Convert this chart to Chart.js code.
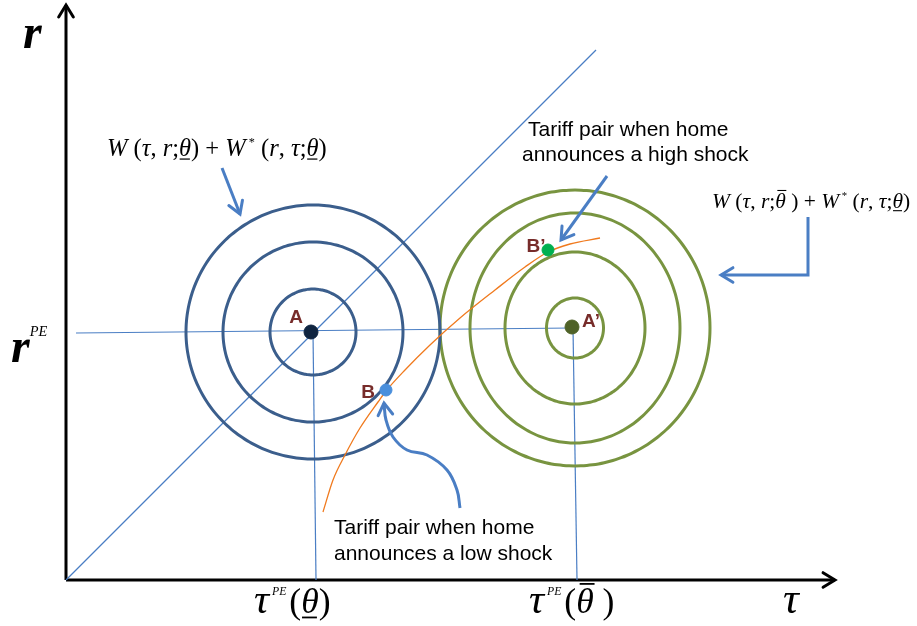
<!DOCTYPE html>
<html>
<head>
<meta charset="utf-8">
<script src="https://cdn.jsdelivr.net/npm/chart.js@4"></script>
<style>
  html, body { margin: 0; padding: 0; background: #fff; }
  #wrap { width: 917px; height: 626px; }
</style>
</head>
<body>
<div id="wrap"><canvas id="chart"></canvas></div>
<script>
// Diagram space: tau on the horizontal axis, r on the vertical, origin at the axes corner
const tauRange = [-66, 851];
const rRange = [-46, 580];

// Axes (with arrow heads)
const tauAxis = [[0, 0], [769, 0]];
const rAxis = [[0, 0], [0, 575]];

// Guide lines
const diagonal = [[0, 0], [530, 530]];
const rPELine = [[10, 247], [506, 252]];
const tauLowLine = [[247, 248], [250, 0]];
const tauHighLine = [[507, 252], [511, 0]];

// Iso-welfare contours: centre and radii
const lowCentre = [247, 248];
const lowRadii = [43, 90, 127];
const highCentre = [509, 252];
const highRadiiTau = [28.5, 70, 105, 135];
const highRadiiR = [30, 76, 115, 138];

// Orange locus through B and B'
const curveTau = [257, 267, 279, 294, 312, 320, 339, 364, 394, 429, 459, 482, 504, 534];
const curveR = [68, 100, 125, 152, 178, 189, 210, 235, 262, 290, 313, 328, 336, 342];

// Marked points
const pointNames = ['A', 'B', 'A\u2019', 'B\u2019'];
const pointTau = [245, 320, 506, 482];
const pointR = [248, 190, 253, 330];
const pointColors = ['#0f2440', '#4a8fdc', '#4f6228', '#00b050'];

// Call-out arrows
const arrowLow = [[156, 412], [174, 366]];
const arrowHigh = [[541, 404], [495, 340]];
const arrowBTau = [394, 391, 381, 361, 341, 327, 320, 318];
const arrowBR = [72, 90, 110, 125, 130, 143, 160, 177];
const arrowElbow = [[742, 363], [742, 305], [655, 305]];

const toPts = arr => arr.map(p => ({ x: p[0], y: p[1] }));

function ring(centre, rx, ry) {
    const pts = [];
    for (let k = 0; k <= 144; k++) {
        const a = k / 144 * 2 * Math.PI;
        pts.push({ x: centre[0] + rx * Math.cos(a), y: centre[1] + ry * Math.sin(a) });
    }
    return pts;
}

const BLUE_LINE = '#4a7ec4';
const datasets = [];

// points first so they stay on top
pointNames.forEach((name, i) => {
    datasets.push({
        data: [{ x: pointTau[i], y: pointR[i] }],
        pointRadius: i % 2 === 0 ? 7 : 6,
        backgroundColor: pointColors[i],
        borderColor: pointColors[i],
        showLine: false
    });
});

function line(pts, color, width, extra) {
    datasets.push(Object.assign({
        data: pts,
        showLine: true,
        borderColor: color,
        borderWidth: width,
        pointRadius: 0,
        tension: 0,
        fill: false
    }, extra || {}));
}

line(toPts(arrowLow), BLUE_LINE, 3, { arrow: true });
line(toPts(arrowHigh), BLUE_LINE, 3, { arrow: true });
line(arrowBTau.map((t, i) => ({ x: t, y: arrowBR[i] })), BLUE_LINE, 3, { arrow: true, tension: 0.4 });
line(toPts(arrowElbow), BLUE_LINE, 3, { arrow: true });

line(curveTau.map((t, i) => ({ x: t, y: curveR[i] })), '#f07a1e', 1.3, { cubicInterpolationMode: 'monotone' });

// a little tension keeps Chart.js off its per-pixel fast path, which notches the circles
lowRadii.forEach(rad => line(ring(lowCentre, rad, rad), '#3b5e8c', 3, { tension: 0.3 }));
highRadiiTau.forEach((rad, i) => line(ring(highCentre, rad, highRadiiR[i]), '#789440', 3, { tension: 0.3 }));

line(toPts(diagonal), BLUE_LINE, 1.2);
line(toPts(rPELine), BLUE_LINE, 1.2);
line(toPts(tauLowLine), BLUE_LINE, 1.2);
line(toPts(tauHighLine), BLUE_LINE, 1.2);

line(toPts(tauAxis), '#000', 3, { arrow: true });
line(toPts(rAxis), '#000', 3, { arrow: true });

// open V arrow heads at the end of marked datasets
const arrowPlugin = {
    id: 'arrows',
    afterDatasetsDraw(chart) {
        const ctx = chart.ctx;
        chart.data.datasets.forEach((ds, i) => {
            if (!ds.arrow) return;
            const el = chart.getDatasetMeta(i).data;
            const a = el[el.length - 2], b = el[el.length - 1];
            const ang = Math.atan2(b.y - a.y, b.x - a.x);
            const len = 14, spread = 0.55;
            ctx.save();
            ctx.strokeStyle = ds.borderColor;
            ctx.lineWidth = ds.borderWidth;
            ctx.lineCap = 'round';
            ctx.lineJoin = 'miter';
            ctx.beginPath();
            ctx.moveTo(b.x - len * Math.cos(ang - spread), b.y - len * Math.sin(ang - spread));
            ctx.lineTo(b.x, b.y);
            ctx.lineTo(b.x - len * Math.cos(ang + spread), b.y - len * Math.sin(ang + spread));
            ctx.stroke();
            ctx.restore();
        });
    }
};

// math text: [text, flags, scale] — i italic, b bold, s superscript, u underline, o overline
function drawMath(ctx, x0, y0, parts, size, supRise) {
    let x = x0;
    parts.forEach(([t, f, scale]) => {
        const sup = f.includes('s');
        const s = size * (scale || (sup ? 0.5 : 1));
        ctx.font = (f.includes('i') ? 'italic ' : '') + (f.includes('b') ? 'bold ' : '') + s + 'px "Liberation Serif"';
        const y = sup ? y0 - size * (supRise || 0.42) : y0;
        ctx.fillText(t, x, y);
        const w = ctx.measureText(t).width;
        const th = Math.max(1, s * 0.05);
        if (f.includes('u')) ctx.fillRect(x + w * 0.05, y0 + s * 0.1, w * 0.85, th);
        if (f.includes('o')) ctx.fillRect(x + w * 0.2, y0 - s * 0.84, w * 0.85, th);
        x += w;
    });
}

const formulaLow = [['W', 'i'], [' (', ''], ['\u03c4', 'i'], [', ', ''], ['r', 'i'], [';', ''], ['\u03b8', 'iu'], [')', ''],
    [' + ', ''], ['W', 'i'], [' *', 's'], [' (', ''], ['r', 'i'], [', ', ''], ['\u03c4', 'i'], [';', ''], ['\u03b8', 'iu'], [')', '']];
const formulaHigh = [['W', 'i'], [' (', ''], ['\u03c4', 'i'], [', ', ''], ['r', 'i'], [';', ''], ['\u03b8', 'io'], [' )', ''],
    [' + ', ''], ['W', 'i'], [' *', 's'], [' (', ''], ['r', 'i'], [', ', ''], ['\u03c4', 'i'], [';', ''], ['\u03b8', 'iu'], [')', '']];

const textPlugin = {
    id: 'texts',
    afterDraw(chart) {
        const { ctx, scales: { x, y } } = chart;
        const P = (t, r) => [x.getPixelForValue(t), y.getPixelForValue(r)];
        ctx.save();
        ctx.fillStyle = '#000';
        ctx.textBaseline = 'alphabetic';
        ctx.textAlign = 'left';

        // axis names
        let p = P(-43, 532);
        drawMath(ctx, p[0], p[1], [['r', 'ib']], 48);
        p = P(-55, 218);
        drawMath(ctx, p[0], p[1], [['r', 'ib'], ['PE', 'is', 0.3]], 48, 0.55);
        p = P(717, -33);
        drawMath(ctx, p[0], p[1], [['\u03c4', 'i']], 44);
        p = P(188, -33);
        drawMath(ctx, p[0], p[1], [['\u03c4', 'i'], [' PE ', 'is', 0.28], ['(', '', 0.85], ['\u03b8', 'iu', 0.85], [')', '', 0.85]], 42);
        p = P(463, -33);
        drawMath(ctx, p[0], p[1], [['\u03c4', 'i'], [' PE ', 'is', 0.28], ['(', '', 0.85], ['\u03b8', 'io', 0.85], [' )', '', 0.85]], 42);

        // welfare formulas
        p = P(41, 424);
        drawMath(ctx, p[0], p[1], formulaLow, 24.5);
        p = P(646, 372);
        drawMath(ctx, p[0], p[1], formulaHigh, 21.5);

        // call-out notes
        ctx.font = '21px "Liberation Sans"';
        p = P(462, 444);
        ctx.fillText('Tariff pair when home', p[0], p[1]);
        p = P(456, 419);
        ctx.fillText('announces a high shock', p[0], p[1]);
        p = P(268, 46);
        ctx.fillText('Tariff pair when home', p[0], p[1]);
        p = P(268, 20);
        ctx.fillText('announces a low shock', p[0], p[1]);

        // point names
        ctx.font = 'bold 19px "Liberation Sans"';
        ctx.fillStyle = '#772c2a';
        ctx.textAlign = 'center';
        ctx.textBaseline = 'middle';
        const offs = [[-15, 14], [-18, -3], [19, 5], [-12, 3]];
        pointNames.forEach((name, i) => {
            const q = P(pointTau[i], pointR[i]);
            ctx.fillText(name, q[0] + offs[i][0], q[1] - offs[i][1]);
        });
        ctx.restore();
    }
};

new Chart(document.getElementById('chart'), {
    type: 'scatter',
    data: { datasets },
    options: {
        responsive: true,
        maintainAspectRatio: false,
        animation: false,
        layout: { padding: 0, autoPadding: false },
        plugins: { legend: { display: false }, tooltip: { enabled: false } },
        scales: {
            x: { type: 'linear', min: tauRange[0], max: tauRange[1], display: false },
            y: { type: 'linear', min: rRange[0], max: rRange[1], display: false }
        }
    },
    plugins: [arrowPlugin, textPlugin]
});
</script>
</body>
</html>
